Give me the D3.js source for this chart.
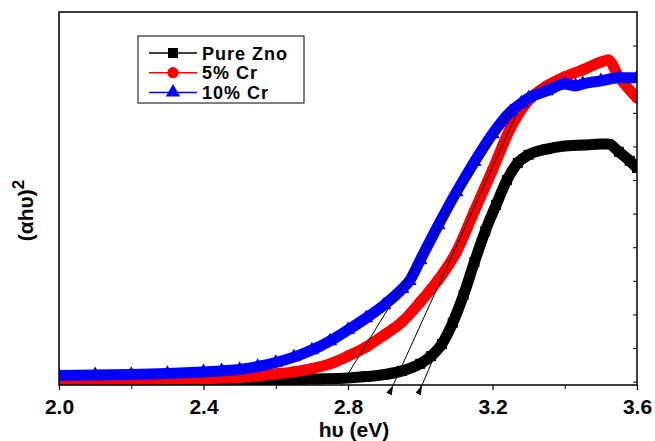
<!DOCTYPE html>
<html>
<head>
<meta charset="utf-8">
<script src="https://cdn.jsdelivr.net/npm/d3@7"></script>
<style>
  body { margin: 0; background: #fff; font-family: Arial, "Liberation Sans", sans-serif; }
  svg { display: block; }
  .tick text { font-weight: bold; }
</style>
</head>
<body>
<svg id="chart"></svg>
<script>
const WIDTH = 655
const HEIGHT = 441
const MARGIN = { left: 59, top: 12, right: 18, bottom: 56 }

// photon energy (eV) and (αhυ)² in arbitrary units
const pureX = [2.00, 2.20, 2.40, 2.50, 2.60, 2.70, 2.80, 2.85, 2.90, 2.95, 3.00, 3.03, 3.06, 3.09, 3.12, 3.15, 3.18, 3.21, 3.24, 3.27, 3.30, 3.35, 3.40, 3.45, 3.50, 3.52, 3.55, 3.58, 3.60]
const pureY = [0.00, 0.00, 0.02, 0.03, 0.05, 0.08, 0.11, 0.15, 0.21, 0.32, 0.53, 0.76, 1.12, 1.75, 2.58, 3.56, 4.48, 5.26, 6.00, 6.51, 6.75, 6.92, 7.01, 7.04, 7.07, 7.07, 6.84, 6.57, 6.36]

const cr5X = [2.00, 2.10, 2.20, 2.30, 2.40, 2.50, 2.55, 2.60, 2.65, 2.70, 2.75, 2.80, 2.85, 2.90, 2.95, 3.00, 3.05, 3.10, 3.15, 3.20, 3.25, 3.30, 3.35, 3.40, 3.45, 3.50, 3.52, 3.55, 3.60]
const cr5Y = [0.06, 0.06, 0.06, 0.08, 0.09, 0.12, 0.17, 0.23, 0.29, 0.39, 0.53, 0.76, 1.03, 1.39, 1.78, 2.37, 3.03, 3.86, 5.08, 6.30, 7.55, 8.38, 8.80, 9.07, 9.28, 9.51, 9.57, 9.07, 8.44]

const cr10X = [2.00, 2.10, 2.20, 2.30, 2.40, 2.45, 2.50, 2.55, 2.60, 2.65, 2.70, 2.75, 2.80, 2.85, 2.90, 2.95, 2.97, 3.00, 3.05, 3.10, 3.15, 3.20, 3.25, 3.28, 3.30, 3.35, 3.40, 3.43, 3.45, 3.50, 3.55, 3.60]
const cr10Y = [0.18, 0.20, 0.21, 0.24, 0.29, 0.32, 0.36, 0.45, 0.57, 0.73, 0.94, 1.21, 1.54, 1.89, 2.28, 2.76, 3.00, 3.62, 4.66, 5.64, 6.54, 7.37, 8.03, 8.29, 8.44, 8.65, 8.86, 8.80, 8.86, 8.95, 9.04, 9.04]

// band gap extrapolation lines [x1, y1, x2, y2]
const tangentLines = [
  [2.781, -0.1, 3.254, 8.14],
  [2.925, -0.1, 3.268, 8.00],
  [3.005, -0.1, 3.254, 6.15]
]
const tangentArrow = [false, true, true]

const seriesNames = ["Pure Zno", "5% Cr", "10% Cr"]
const seriesColors = ["#000000", "#ff0000", "#0000ff"]
const seriesSymbols = [d3.symbolSquare, d3.symbolCircle, d3.symbolTriangle]
const seriesSizes = [100, 100, 90]

const xMajorTicks = [2.0, 2.4, 2.8, 3.2, 3.6]
const xMinorTicks = [2.2, 2.6, 3.0, 3.4]
const yTicks = [0, 1, 2, 3, 4, 5, 6, 7, 8, 9, 10]

const svg = d3.select("#chart").attr("width", WIDTH).attr("height", HEIGHT)

const x = d3.scaleLinear().domain([2.0, 3.6]).range([MARGIN.left, WIDTH - MARGIN.right])
const y = d3.scaleLinear().domain([-0.1, 11.0]).range([HEIGHT - MARGIN.bottom, MARGIN.top])

svg.append("defs").append("marker")
  .attr("id", "arrow")
  .attr("viewBox", "0 0 10 6")
  .attr("refX", 0).attr("refY", 3)
  .attr("markerWidth", 10).attr("markerHeight", 6)
  .attr("markerUnits", "userSpaceOnUse")
  .attr("orient", "auto-start-reverse")
  .append("path").attr("d", "M0,3 L10,0 L10,6 Z").attr("fill", "#000")

svg.append("defs").append("clipPath").attr("id", "plotclip")
  .append("rect")
  .attr("x", MARGIN.left).attr("y", MARGIN.top)
  .attr("width", WIDTH - MARGIN.left - MARGIN.right)
  .attr("height", HEIGHT - MARGIN.top - MARGIN.bottom)

const plot = svg.append("g").attr("clip-path", "url(#plotclip)")

const allSeries = [
  pureX.map((v, i) => [v, pureY[i]]),
  cr5X.map((v, i) => [v, cr5Y[i]]),
  cr10X.map((v, i) => [v, cr10Y[i]])
]

const line = d3.line().x(d => x(d[0])).y(d => y(d[1])).curve(d3.curveMonotoneX)

allSeries.forEach((pts, k) => {
  plot.append("path")
    .attr("d", line(pts))
    .attr("fill", "none")
    .attr("stroke", seriesColors[k])
    .attr("stroke-width", 11)
    .attr("stroke-linejoin", "round")

  plot.selectAll(".m" + k)
    .data(pts)
    .enter()
    .append("path")
    .attr("class", "m" + k)
    .attr("d", d3.symbol().type(seriesSymbols[k]).size(seriesSizes[k]))
    .attr("transform", d => `translate(${x(d[0])},${y(d[1])})`)
    .attr("fill", seriesColors[k])
})

tangentLines.forEach((t, i) => {
  svg.append("line")
    .attr("x1", x(t[0])).attr("y1", y(t[1]))
    .attr("x2", x(t[2])).attr("y2", y(t[3]))
    .attr("stroke", "#000").attr("stroke-width", 1)
    .attr("marker-start", tangentArrow[i] ? "url(#arrow)" : null)
})

// frame
svg.append("rect")
  .attr("x", MARGIN.left).attr("y", MARGIN.top)
  .attr("width", WIDTH - MARGIN.left - MARGIN.right)
  .attr("height", HEIGHT - MARGIN.top - MARGIN.bottom)
  .attr("fill", "none").attr("stroke", "#000").attr("stroke-width", 1.5)

let xAxis = d3.axisBottom(x)
  .tickValues(xMajorTicks)
  .tickFormat(d3.format(".1f"))
  .tickSize(5)
  .tickPadding(9)

let xAxisGroup = svg.append("g")
  .attr("transform", `translate(0,${HEIGHT - MARGIN.bottom})`)
  .call(xAxis)
xAxisGroup.select(".domain").remove()
xAxisGroup.selectAll("text").attr("font-size", 21).attr("font-family", "Arial, 'Liberation Sans', sans-serif").attr("fill", "#000")
xAxisGroup.selectAll("line").attr("stroke-width", 1.2)

let xMinor = svg.append("g")
  .attr("transform", `translate(0,${HEIGHT - MARGIN.bottom})`)
  .call(d3.axisBottom(x).tickValues(xMinorTicks).tickSize(4).tickFormat(""))
xMinor.select(".domain").remove()

let yRight = svg.append("g")
  .attr("transform", `translate(${WIDTH - MARGIN.right},0)`)
  .call(d3.axisLeft(y).tickValues(yTicks).tickSize(4).tickFormat(""))
yRight.select(".domain").remove()

svg.append("text")
  .attr("x", (MARGIN.left + WIDTH - MARGIN.right) / 2 + 6)
  .attr("y", 437)
  .attr("text-anchor", "middle")
  .attr("font-size", 21).attr("font-weight", "bold")
  .text("hυ (eV)")

let yTitle = svg.append("text")
  .attr("transform", `translate(33,${(MARGIN.top + HEIGHT - MARGIN.bottom) / 2 + 12}) rotate(-90)`)
  .attr("text-anchor", "middle")
  .attr("font-size", 21).attr("font-weight", "bold")
yTitle.append("tspan").text("(αhυ)")
yTitle.append("tspan").attr("dy", -9).attr("font-size", 17).text("2")

// legend
const legend = svg.append("g")
legend.append("rect")
  .attr("x", 138).attr("y", 36).attr("width", 166).attr("height", 67)
  .attr("fill", "#fff").attr("stroke", "#000").attr("stroke-width", 1)

seriesNames.forEach((name, k) => {
  let ly = 53 + k * 19.7
  legend.append("line")
    .attr("x1", 149).attr("x2", 197).attr("y1", ly).attr("y2", ly)
    .attr("stroke", seriesColors[k]).attr("stroke-width", 1.5)
  legend.append("path")
    .attr("d", d3.symbol().type(seriesSymbols[k]).size(seriesSizes[k]))
    .attr("transform", `translate(173,${ly})`)
    .attr("fill", seriesColors[k])
  legend.append("text")
    .attr("x", 202).attr("y", ly + 6.5)
    .attr("font-size", 18).attr("font-weight", "bold")
    .attr("letter-spacing", 1)
    .text(name)
})
</script>
</body>
</html>
